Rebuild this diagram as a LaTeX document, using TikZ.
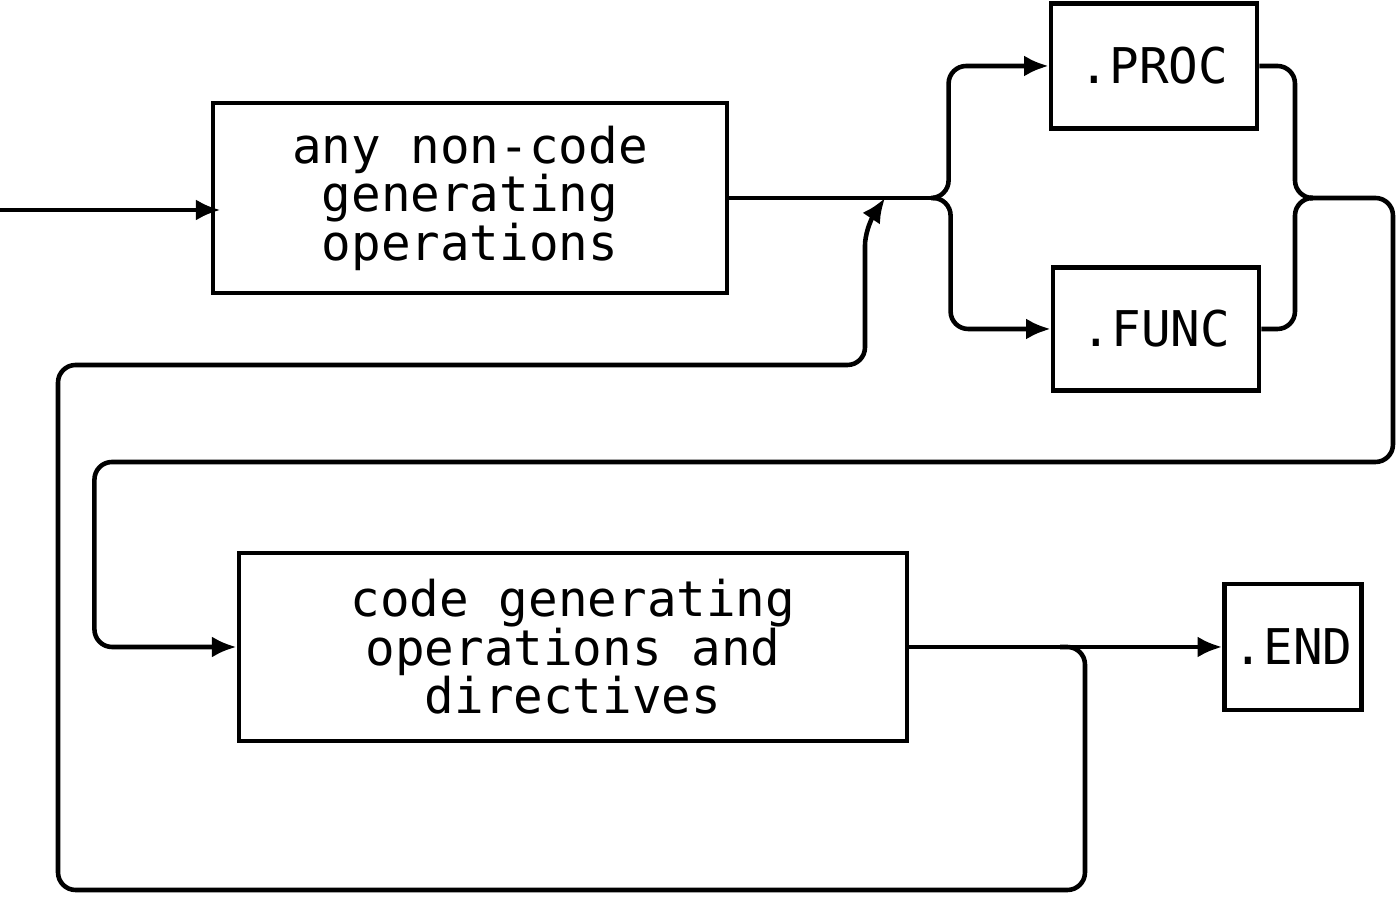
\documentclass[tikz,border=0pt]{standalone}
\usepackage{fontspec}
\setmonofont{DejaVu Sans Mono}
\usetikzlibrary{arrows.meta}

\begin{document}
\begin{tikzpicture}[x=0.01cm, y=-0.01cm,
    box/.style={draw, rectangle, line width=1.3pt, align=center, inner sep=0pt,
        font=\ttfamily\fontsize{14pt}{13.8pt}\selectfont},
    flow/.style={line width=1.3pt, rounded corners=5pt},
    >={Latex[length=7pt,width=6pt]}]
    \useasboundingbox (0,0) rectangle (1399,901);
    % Nodes
    \node (ops) [box, minimum width=5.14cm, minimum height=1.9cm] at (470,198) {any non-code\\generating\\operations};
    \node (proc) [box, minimum width=2.06cm, minimum height=1.25cm] at (1154,66) {.PROC};
    \node (func) [box, minimum width=2.06cm, minimum height=1.23cm] at (1156,329) {.FUNC};
    \node (gen) [box, minimum width=6.68cm, minimum height=1.88cm] at (573,647) {code generating\\operations and\\directives};
    \node (fin) [box, minimum width=1.37cm, minimum height=1.26cm] at (1293,647) {.END};

    % Junctions
    \coordinate (in) at (0,210);
    \coordinate (split) at (935,198);
    \coordinate (join) at (885,198);
    \coordinate (merge) at (1310,198);
    \coordinate (back) at (1393,462);
    \coordinate (exit) at (1060,647);
    \coordinate (low) at (1085,890);
    \coordinate (high) at (58,365);

    % Arrows
    \draw[flow, ->] (in) -- ([xshift=0.1cm]ops.west |- in);
    \draw[flow] (ops.east) -- (split);
    \draw[flow, ->] (split) -| ([xshift=-1cm]proc.west) -- (proc.west);
    \draw[flow, ->] (split) -| ([xshift=-1cm]func.west) -- (func.west);
    \draw[flow] (proc.east) -| ([xshift=-0.15cm]merge) -- (merge);
    \draw[flow] (func.east) -| ([xshift=-0.15cm]merge) -- (merge);
    \draw[flow, ->] (merge) -| (back) -| ([xshift=-1.42cm]gen.west) -- (gen.west);
    \draw[flow, ->] (gen.east) -- (fin.west);
    \draw[flow, ->] (exit) -| (low) -| (high) -| ([xshift=-0.2cm, yshift=-0.3cm]join) -- (join);
\end{tikzpicture}
\end{document}
